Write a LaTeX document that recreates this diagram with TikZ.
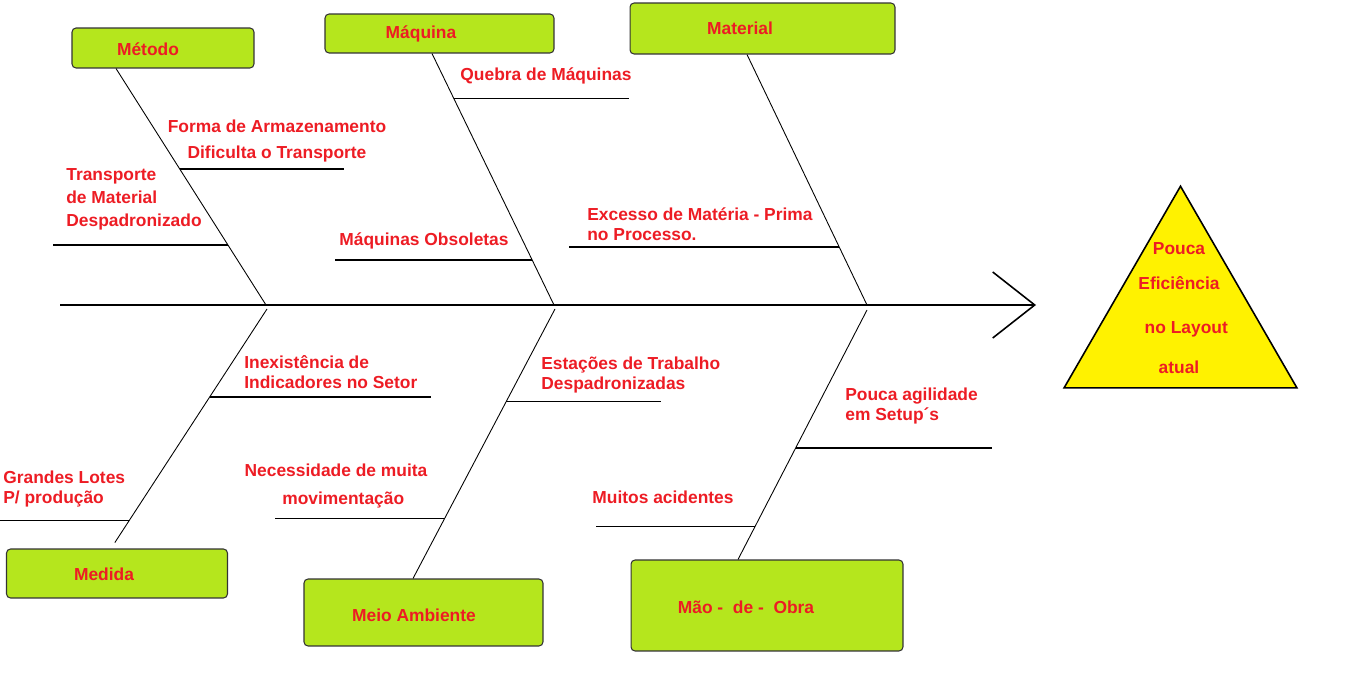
\documentclass[tikz,border=0pt]{standalone}
\usepackage{fontspec}
\setmainfont{Liberation Sans}
\usetikzlibrary{arrows.meta,shapes.geometric}
\definecolor{vermelho}{RGB}{237,28,36}
\definecolor{verde}{RGB}{181,230,29}
\definecolor{amarelo}{RGB}{255,242,0}

\begin{document}
\begin{tikzpicture}[x=0.02cm,y=-0.02cm,
	caixa/.style={shape=rectangle,rounded corners=0.08cm,draw=black!80,fill=verde,line width=0.6pt},
	rotulo/.style={text=vermelho,font=\bfseries\fontsize{9.9}{11.5}\selectfont,inner sep=0pt},
	espinha/.style={line width=0.5pt},
	costela/.style={line width=0.9pt}]
	
	\useasboundingbox (0,0) rectangle (1350,696);
	
	\node[caixa,minimum width=3.64cm,minimum height=0.80cm] (metodo)   at (163,48)      {};
	\node[caixa,minimum width=4.58cm,minimum height=0.78cm] (maquina)  at (439.5,33.5)  {};
	\node[caixa,minimum width=5.30cm,minimum height=1.02cm] (material) at (762.5,28.5)  {};
	\node[caixa,minimum width=4.42cm,minimum height=0.98cm] (medida)   at (117,573.5)   {};
	\node[caixa,minimum width=4.78cm,minimum height=1.34cm] (meio)     at (423.5,612.5) {};
	\node[caixa,minimum width=5.44cm,minimum height=1.82cm] (mao)      at (767,605.5)   {};
	
	\node[rotulo] (metodo-t)   at (148,49)  {Método};
	\node[rotulo] (maquina-t)  at (421,34)  {Máquina};
	\node[rotulo] (material-t) at (740,28)  {Material};
	\node[rotulo] (medida-t)   at (104,574) {Medida};
	\node[rotulo] (meio-t)     at (414,615) {Meio Ambiente};
	\node[rotulo] (mao-t)      at (746,607) {Mão -\ \ de -\ \ Obra};
	
	\node[shape=regular polygon,regular polygon sides=3,minimum size=5.38cm,inner sep=0pt,
	      draw=black,fill=amarelo,line width=0.9pt] (efeito) at (1180.5,320.7) {};
	\node[rotulo,align=center] (efeito-t) at (1179,308.5)
	      {Pouca\\[8.4pt]Eficiência\\[13.5pt]\ \ \ no Layout\\[11.3pt]atual};
	
	\coordinate (cauda)  at (60,305);
	\coordinate (cabeca) at (1036,305);
	\coordinate (p1) at (266,305);
	\coordinate (p2) at (554,305);
	\coordinate (p3) at (867,305);
	\coordinate (p4) at (267,309);
	\coordinate (p5) at (555,309);
	\coordinate (p6) at (867,310);
	
	\draw[costela,-{Straight Barb[length=0.84cm,width=1.32cm]}] (cauda) -- (cabeca);
	
	\draw[espinha] ([xshift=-0.94cm]metodo.south)  -- coordinate[pos=0.426] (c1) coordinate[pos=0.747] (c2) (p1);
	\draw[espinha] ([xshift=-0.15cm]maquina.south) -- coordinate[pos=0.179] (c3) coordinate[pos=0.821] (c4) (p2);
	\draw[espinha] ([xshift=-0.31cm]material.south) -- coordinate[pos=0.769] (c5) (p3);
	\draw[espinha,shorten >=0.14cm] (p4) -- coordinate[pos=0.367] (c6) coordinate[pos=0.883] (c7) ([xshift=-0.12cm]medida.north);
	\draw[espinha] (p5) -- coordinate[pos=0.344] (c8) coordinate[pos=0.778] (c9) ([xshift=-0.21cm]meio.north);
	\draw[espinha] (p6) -- coordinate[pos=0.552] (c10) coordinate[pos=0.868] (c11) ([xshift=-0.58cm]mao.north);
	
	\draw[costela] (c1)  -- ++(164,0);
	\draw[costela] (c2)  -- ++(-175,0);
	\draw[costela] (c3)  -- ++(175,0);
	\draw[costela] (c4)  -- ++(-197,0);
	\draw[costela] (c5)  -- ++(-270,0);
	\draw[costela] (c6)  -- ++(221,0);
	\draw[costela] (c7)  -- ++(-129,0);
	\draw[costela] (c8)  -- ++(155,0);
	\draw[costela] (c9)  -- ++(-170,0);
	\draw[costela] (c10) -- ++(196,0);
	\draw[costela] (c11) -- ++(-159,0);
	
	\node[rotulo,align=center]        at (277,141)   {Forma de Armazenamento\\[3.3pt]Dificulta o Transporte};
	\node[rotulo,align=left,anchor=west] at (66,199) {Transporte\\[1.6pt]de Material\\[1.6pt]Despadronizado};
	\node[rotulo]                     at (546,76)    {Quebra de Máquinas};
	\node[rotulo]                     at (424,241)   {Máquinas Obsoletas};
	\node[rotulo,align=left,anchor=west] at (587,224.5) {Excesso de Matéria - Prima\\no Processo.};
	\node[rotulo,align=left,anchor=west] at (244,372)   {Inexistência de\\Indicadores no Setor};
	\node[rotulo,align=left,anchor=west] at (3,489)     {Grandes Lotes\\P/ produção};
	\node[rotulo,align=left,anchor=west] at (541,375)   {Estações de Trabalho\\Despadronizadas};
	\node[rotulo,align=center]        at (336,486)   {Necessidade de muita\\[4.4pt]\ \ \ movimentação};
	\node[rotulo,align=left,anchor=west] at (845,406)   {Pouca agilidade\\em Setup´s};
	\node[rotulo]                     at (663,497)   {Muitos acidentes};
	
\end{tikzpicture}
\end{document}
